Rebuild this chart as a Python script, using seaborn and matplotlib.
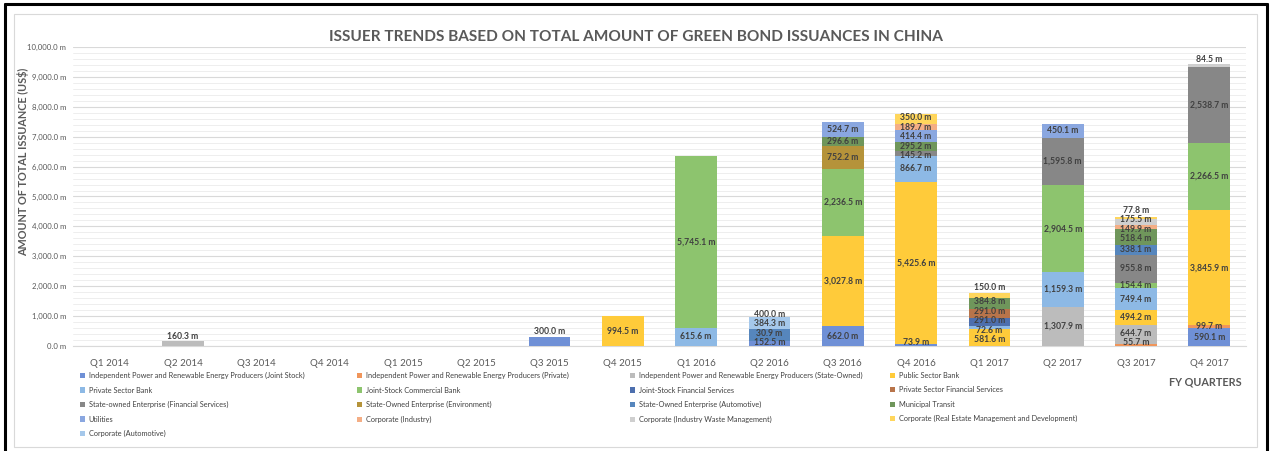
import numpy as np
import pandas as pd
import matplotlib
matplotlib.use("Agg")
import matplotlib.pyplot as plt
from matplotlib.patches import Patch, Rectangle
from matplotlib.lines import Line2D
from matplotlib.ticker import MultipleLocator, FuncFormatter
import seaborn as sns

# ---------------------------------------------------------------------------
# Data: green bond issuance in China by issuer type (US$ millions)
# ---------------------------------------------------------------------------
quarters = ["Q1 2014", "Q2 2014", "Q3 2014", "Q4 2014",
            "Q1 2015", "Q2 2015", "Q3 2015", "Q4 2015",
            "Q1 2016", "Q2 2016", "Q3 2016", "Q4 2016",
            "Q1 2017", "Q2 2017", "Q3 2017", "Q4 2017"]

#                       14Q1 14Q2   14Q3 14Q4 15Q1 15Q2 15Q3   15Q4   16Q1    16Q2   16Q3    16Q4    17Q1   17Q2    17Q3   17Q4
ipp_joint_stock      = [0, 0,     0, 0, 0, 0, 300.0, 0,     0,      152.5, 662.0,  73.9,   0,     0,      0,     590.1]
ipp_private          = [0, 0,     0, 0, 0, 0, 0,     0,     0,      30.9,  0,      0,      0,     0,      55.7,  99.7]
ipp_state_owned      = [0, 160.3, 0, 0, 0, 0, 0,     0,     0,      0,     0,      0,      0,     1307.9, 644.7, 0]
public_sector_bank   = [0, 0,     0, 0, 0, 0, 0,     994.5, 0,      0,     3027.8, 5425.6, 581.6, 0,      494.2, 3845.9]
private_sector_bank  = [0, 0,     0, 0, 0, 0, 0,     0,     615.6,  0,     0,      866.7,  72.6,  1159.3, 749.4, 0]
joint_stock_comm_bank = [0, 0,    0, 0, 0, 0, 0,     0,     5745.1, 0,     2236.5, 0,      0,     2904.5, 154.4, 2266.5]
joint_stock_fin_serv = [0, 0,     0, 0, 0, 0, 0,     0,     0,      0,     0,      0,      291.0, 0,      0,     0]
private_fin_serv     = [0, 0,     0, 0, 0, 0, 0,     0,     0,      0,     0,      0,      291.0, 0,      0,     0]
soe_fin_serv         = [0, 0,     0, 0, 0, 0, 0,     0,     0,      0,     0,      145.2,  0,     1595.8, 955.8, 2538.7]
soe_environment      = [0, 0,     0, 0, 0, 0, 0,     0,     0,      0,     752.2,  0,      0,     0,      0,     0]
soe_automotive       = [0, 0,     0, 0, 0, 0, 0,     0,     0,      384.3, 0,      0,      0,     0,      338.1, 0]
municipal_transit    = [0, 0,     0, 0, 0, 0, 0,     0,     0,      0,     296.6,  295.2,  384.8, 0,      518.4, 0]
utilities            = [0, 0,     0, 0, 0, 0, 0,     0,     0,      0,     524.7,  414.4,  0,     450.1,  0,     0]
corp_industry        = [0, 0,     0, 0, 0, 0, 0,     0,     0,      0,     0,      189.7,  0,     0,      149.9, 0]
corp_waste_mgmt      = [0, 0,     0, 0, 0, 0, 0,     0,     0,      0,     0,      0,      0,     0,      175.5, 84.5]
corp_real_estate     = [0, 0,     0, 0, 0, 0, 0,     0,     0,      0,     0,      350.0,  150.0, 0,      77.8,  0]
corp_automotive      = [0, 0,     0, 0, 0, 0, 0,     0,     0,      400.0, 0,      0,      0,     0,      0,     0]

series_names = [
    "Independent Power and Renewable Energy Producers (Joint Stock)",
    "Independent Power and Renewable Energy Producers (Private)",
    "Independent Power and Renewable Energy Producers (State-Owned)",
    "Public Sector Bank",
    "Private Sector Bank",
    "Joint-Stock Commercial Bank",
    "Joint-Stock Financial Services",
    "Private Sector Financial Services",
    "State-owned Enterprise (Financial Services)",
    "State-Owned Enterprise (Environment)",
    "State-Owned Enterprise (Automotive)",
    "Municipal Transit",
    "Utilities",
    "Corporate (Industry)",
    "Corporate (Industry Waste Management)",
    "Corporate (Real Estate Management and Development)",
    "Corporate (Automotive)",
]
series_values = [
    ipp_joint_stock, ipp_private, ipp_state_owned, public_sector_bank,
    private_sector_bank, joint_stock_comm_bank, joint_stock_fin_serv,
    private_fin_serv, soe_fin_serv, soe_environment, soe_automotive,
    municipal_transit, utilities, corp_industry, corp_waste_mgmt,
    corp_real_estate, corp_automotive,
]
series_colors = [
    "#6F90D6", "#F0955A", "#BCBCBC", "#FFCB3A",
    "#8DB9E5", "#8DC46E", "#4D6FAE", "#B8744A",
    "#878787", "#B5933A", "#5686BD", "#6F965B",
    "#8AA7E0", "#F4AE85", "#CFCFCF", "#FFD65C",
    "#A5C8EB",
]

# ---------------------------------------------------------------------------
# Figure
# ---------------------------------------------------------------------------
sns.set_theme(style="white")
plt.rcParams["font.family"] = ["Lato", "DejaVu Sans"]

W, H = 1272, 451
fig = plt.figure(figsize=(W / 100, H / 100), dpi=100)
ax = fig.add_axes([73 / W, 1 - 346 / H, (1246 - 73) / W, (346 - 47) / H])

n = len(quarters)
bottom = np.zeros(n)
for name, vals, col in zip(series_names, series_values, series_colors):
    df = pd.DataFrame({"quarter": quarters, "value": vals})
    sns.barplot(data=df, x="quarter", y="value", order=quarters, color=col,
                saturation=1, errorbar=None, width=0.57, linewidth=0,
                bottom=bottom.copy(), ax=ax, zorder=3)
    bottom += np.asarray(vals, dtype=float)

ax.set_ylim(0, 10000)
ax.set_xlim(-0.5, n - 0.5)
ax.yaxis.set_major_locator(MultipleLocator(1000))
ax.yaxis.set_minor_locator(MultipleLocator(200))
ax.yaxis.set_major_formatter(FuncFormatter(lambda v, p: f"{v:,.1f} m"))
ax.grid(which="major", axis="y", color="#D9D9D9", linewidth=0.8, zorder=0)
ax.grid(which="minor", axis="y", color="#EBEBEB", linewidth=0.6, zorder=0)
ax.grid(which="both", axis="x", visible=False)
ax.set_axisbelow(True)
for s in ["top", "right", "left"]:
    ax.spines[s].set_visible(False)
ax.spines["bottom"].set_color("#D9D9D9")
ax.spines["bottom"].set_linewidth(0.8)
ax.tick_params(axis="y", which="both", length=0, labelsize=5.6,
               labelcolor="#595959", pad=5)
ax.tick_params(axis="x", length=0, labelsize=7.0, labelcolor="#595959", pad=9)
ax.set_xlabel("")
ax.set_ylabel("")


# ---------------------------------------------------------------------------
# Data labels, spread apart vertically where segments are thin
# ---------------------------------------------------------------------------
def spread_labels(targets, gap, floor):
    blocks = []  # [first_index, count, sum_of_targets]

    def centre(b):
        c = b[2] / b[1]
        if b[0] == 0:
            c = max(c, floor + (b[1] - 1) / 2 * gap)
        return c

    for i, t in enumerate(targets):
        blocks.append([i, 1, t])
        while len(blocks) > 1:
            a, b = blocks[-2], blocks[-1]
            a_top = centre(a) + (a[1] - 1) / 2 * gap
            b_bot = centre(b) - (b[1] - 1) / 2 * gap
            if b_bot - a_top < gap:
                blocks[-2] = [a[0], a[1] + b[1], a[2] + b[2]]
                blocks.pop()
            else:
                break
    pos = []
    for b in blocks:
        c = centre(b)
        for k in range(b[1]):
            pos.append(c + (k - (b[1] - 1) / 2) * gap)
    return pos


for i in range(n):
    segs = []
    base = 0.0
    for vals in series_values:
        v = vals[i]
        if v > 0:
            segs.append((v, base))
            base += v
    if not segs:
        continue
    total = base
    targets = [b + v / 2 for v, b in segs]
    if segs[-1][0] < 200 or total < 400:
        targets[-1] = total + 170
    ys = spread_labels(targets, gap=315, floor=110)
    for (v, b), y in zip(segs, ys):
        ax.text(i, y, f"{v:,.1f} m", ha="center", va="center", fontsize=6.2,
                fontweight="bold", color="#404040", zorder=5)

# ---------------------------------------------------------------------------
# Titles and axis captions
# ---------------------------------------------------------------------------
fig.text(636 / W, 1 - 37 / H,
         "ISSUER TRENDS BASED ON TOTAL AMOUNT OF GREEN BOND ISSUANCES IN CHINA",
         ha="center", va="center", fontsize=11.05, fontweight="bold",
         color="#595959")
fig.text(23 / W, 1 - 162 / H, "AMOUNT OF TOTAL ISSUANCE (US$)", rotation=90,
         ha="center", va="center", fontsize=7.8, fontweight="bold",
         color="#595959")
fig.text(1205 / W, 1 - 382 / H, "FY QUARTERS", ha="center", va="center",
         fontsize=7.8, fontweight="bold", color="#595959")

# ---------------------------------------------------------------------------
# Legend: four columns filled row by row
# ---------------------------------------------------------------------------
col_x = [80, 357, 630, 890]
handles = [Patch(facecolor=c, edgecolor="none") for c in series_colors]
for c in range(4):
    idx = list(range(c, len(series_names), 4))
    fig.legend([handles[k] for k in idx], [series_names[k] for k in idx],
               loc="upper left", bbox_to_anchor=(col_x[c] / W, 1 - 372 / H),
               frameon=False, fontsize=5.35, handlelength=0.7,
               handleheight=0.7, handletextpad=0.45, labelspacing=1.0,
               borderpad=0, borderaxespad=0, labelcolor="#404040")

# ---------------------------------------------------------------------------
# Frames
# ---------------------------------------------------------------------------
fig.add_artist(Rectangle((14 / W, 1 - 447 / H), (1257 - 14) / W, (447 - 14) / H,
                         transform=fig.transFigure, fill=False,
                         edgecolor="#D9D9D9", linewidth=0.8))
fig.add_artist(Line2D([5 / W, 5 / W], [0, 1 - 4 / H], transform=fig.transFigure,
                      color="black", linewidth=2.2))
fig.add_artist(Line2D([1267 / W, 1267 / W], [0, 1 - 4 / H],
                      transform=fig.transFigure, color="black", linewidth=2.2))
fig.add_artist(Line2D([5 / W, 1267 / W], [1 - 4 / H, 1 - 4 / H],
                      transform=fig.transFigure, color="black", linewidth=2.2))

fig.savefig("out.png", dpi=100)
